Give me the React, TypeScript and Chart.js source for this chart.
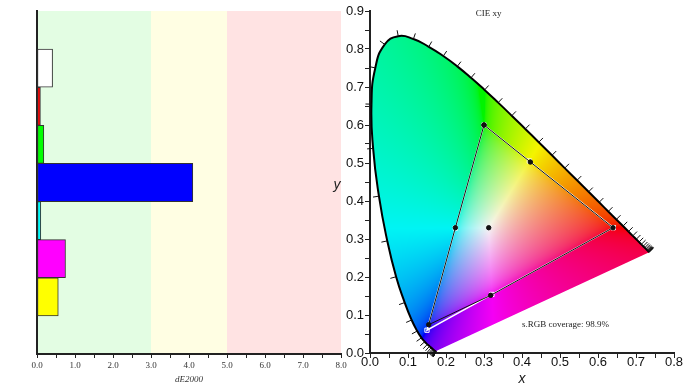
import React, { useEffect, useRef } from 'react';
import { Chart, registerables } from 'chart.js';
Chart.register(...registerables);

// ---------- Left: dE2000 bars ----------
const DE_CATEGORIES = ['', 'White', 'Red', 'Green', 'Blue', 'Cyan', 'Magenta', 'Yellow', ''];
const DE_VALUES = [null, 0.41, 0.09, 0.18, 4.1, 0.1, 0.75, 0.56, null];
const DE_COLORS = ['#ffffff', '#ffffff', '#ff0000', '#00ff00', '#0000ff', '#00ffff', '#ff00ff', '#ffff00', '#ffffff'];
const DE_BAND_EDGES = [0, 3, 5, 8];
const DE_BAND_COLORS = ['#e3fde3', '#fffee3', '#ffe3e3'];
const DE_TITLE = 'dE2000';

// ---------- Right: CIE xy ----------
const LOCUS_NM = [380, 385, 390, 395, 400, 405, 410, 415, 420, 425, 430, 435, 440, 445, 450, 455, 460, 465, 470, 475, 480, 485, 490, 495, 500, 505, 510, 515, 520, 525, 530, 535, 540, 545, 550, 555, 560, 565, 570, 575, 580, 585, 590, 595, 600, 605, 610, 615, 620, 625, 630, 635, 640, 645, 650, 655, 660, 665, 670, 675, 680, 685, 690, 695, 700];
const LOCUS_X = [0.1741, 0.1740, 0.1738, 0.1736, 0.1733, 0.1730, 0.1726, 0.1721, 0.1714, 0.1703, 0.1689, 0.1669, 0.1644, 0.1611, 0.1566, 0.1510, 0.1440, 0.1355, 0.1241, 0.1096, 0.0913, 0.0687, 0.0454, 0.0235, 0.0082, 0.0039, 0.0139, 0.0389, 0.0743, 0.1142, 0.1547, 0.1929, 0.2296, 0.2658, 0.3016, 0.3373, 0.3731, 0.4087, 0.4441, 0.4788, 0.5125, 0.5448, 0.5752, 0.6029, 0.6270, 0.6482, 0.6658, 0.6801, 0.6915, 0.7006, 0.7079, 0.7140, 0.7190, 0.7230, 0.7260, 0.7283, 0.7300, 0.7311, 0.7320, 0.7327, 0.7334, 0.7340, 0.7344, 0.7346, 0.7347];
const LOCUS_Y = [0.0050, 0.0050, 0.0049, 0.0049, 0.0048, 0.0048, 0.0048, 0.0048, 0.0051, 0.0058, 0.0069, 0.0086, 0.0109, 0.0138, 0.0177, 0.0227, 0.0297, 0.0399, 0.0578, 0.0868, 0.1327, 0.2007, 0.2950, 0.4127, 0.5384, 0.6548, 0.7502, 0.8120, 0.8338, 0.8262, 0.8059, 0.7816, 0.7543, 0.7243, 0.6923, 0.6589, 0.6245, 0.5896, 0.5547, 0.5202, 0.4866, 0.4544, 0.4242, 0.3965, 0.3725, 0.3514, 0.3340, 0.3197, 0.3083, 0.2993, 0.2920, 0.2859, 0.2809, 0.2770, 0.2740, 0.2717, 0.2700, 0.2689, 0.2680, 0.2673, 0.2666, 0.2660, 0.2656, 0.2654, 0.2653];

// target gamut (R, Y, G, C, B, M, R)
const TARGET_X = [0.64, 0.4193, 0.3, 0.2246, 0.15, 0.3209, 0.64];
const TARGET_Y = [0.33, 0.5053, 0.6, 0.3287, 0.06, 0.1542, 0.33];
// measured (G, Y, R, M, B, C, G)
const MEASURED_X = [0.3, 0.422, 0.6395, 0.3176, 0.1545, 0.2247, 0.3];
const MEASURED_Y = [0.6, 0.5026, 0.3297, 0.1518, 0.0745, 0.3297, 0.6];
const WHITE_X = [0.3124];
const WHITE_Y = [0.3297];
const CIE_TITLE = 'CIE xy';
const COVERAGE_TEXT = 's.RGB coverage: 98.9%';

const zip = (xs: number[], ys: number[]) => xs.map((x, i) => ({ x, y: ys[i] }));

function gammaC(v: number) {
  return v <= 0.0031308 ? 12.92 * v : 1.055 * Math.pow(v, 1 / 2.4) - 0.055;
}
function xyToRgb(cx: number, cy: number): [number, number, number] {
  if (cy <= 0.0005) cy = 0.0005;
  const X = cx / cy, Y = 1, Z = (1 - cx - cy) / cy;
  let r = 3.2406 * X - 1.5372 * Y - 0.4986 * Z;
  let g = -0.9689 * X + 1.8758 * Y + 0.0415 * Z;
  let b = 0.0557 * X - 0.204 * Y + 1.057 * Z;
  const mn = Math.min(r, g, b);
  if (mn < 0) { r -= mn * 0.7; g -= mn * 0.7; b -= mn * 0.7; }
  r = Math.max(0, r); g = Math.max(0, g); b = Math.max(0, b);
  const m = Math.max(r, g, b) || 1;
  const k = 244;
  return [gammaC(r / m) * k, gammaC(g / m) * k, gammaC(b / m) * k];
}

const bandsPlugin = {
  id: 'bands',
  beforeDraw(chart: any) {
    const { ctx, chartArea, scales } = chart;
    const x = scales.x;
    ctx.save();
    for (let i = 0; i < DE_BAND_COLORS.length; i++) {
      const x0 = x.getPixelForValue(DE_BAND_EDGES[i]);
      const x1 = x.getPixelForValue(DE_BAND_EDGES[i + 1]);
      ctx.fillStyle = DE_BAND_COLORS[i];
      ctx.fillRect(x0, chartArea.top, x1 - x0, chartArea.bottom - chartArea.top);
    }
    ctx.restore();
  },
  afterDraw(chart: any) {
    const { ctx, chartArea } = chart;
    ctx.save();
    ctx.font = 'italic 9px "Liberation Serif"';
    ctx.fillStyle = '#333';
    ctx.textAlign = 'center';
    ctx.textBaseline = 'middle';
    ctx.fillText(DE_TITLE, (chartArea.left + chartArea.right) / 2, chartArea.bottom + 26);
    ctx.restore();
  },
};

function locusPath(chart: any, ctx: CanvasRenderingContext2D) {
  const xs = chart.scales.x, ys = chart.scales.y;
  const meta = chart.getDatasetMeta(0);
  const line = meta && meta.dataset;
  ctx.beginPath();
  let done = false;
  try {
    if (line && typeof line.updateControlPoints === 'function' && typeof line.path === 'function') {
      line.updateControlPoints(chart.chartArea, 'x');
      line.path(ctx);
      done = true;
    }
  } catch (e) {
    done = false;
  }
  if (!done) {
    ctx.beginPath();
    LOCUS_X.forEach((lx, i) => {
      const px = xs.getPixelForValue(lx), py = ys.getPixelForValue(LOCUS_Y[i]);
      if (i === 0) ctx.moveTo(px, py); else ctx.lineTo(px, py);
    });
  }
  ctx.closePath();
}

const chromaPlugin = {
  id: 'chroma',
  beforeDraw(chart: any) {
    const { ctx, chartArea, scales } = chart;
    const xs = scales.x, ys = scales.y;
    const w = Math.ceil(chartArea.right - chartArea.left);
    const h = Math.ceil(chartArea.bottom - chartArea.top);
    const off = document.createElement('canvas');
    off.width = w; off.height = h;
    const octx = off.getContext('2d')!;
    const img = octx.createImageData(w, h);
    for (let py = 0; py < h; py++) {
      const cy = ys.getValueForPixel(chartArea.top + py + 0.5);
      for (let px = 0; px < w; px++) {
        const cx = xs.getValueForPixel(chartArea.left + px + 0.5);
        const [r, g, b] = xyToRgb(cx, cy);
        const k = (py * w + px) * 4;
        img.data[k] = r; img.data[k + 1] = g; img.data[k + 2] = b; img.data[k + 3] = 255;
      }
    }
    octx.putImageData(img, 0, 0);
    ctx.save();
    locusPath(chart, ctx);
    ctx.clip();
    ctx.drawImage(off, chartArea.left, chartArea.top);
    ctx.restore();
  },
  afterDatasetsDraw(chart: any) {
    const { ctx, scales } = chart;
    const xs = scales.x, ys = scales.y;
    const pts = LOCUS_X.map((lx, i) => [xs.getPixelForValue(lx), ys.getPixelForValue(LOCUS_Y[i])]);
    ctx.save();
    ctx.strokeStyle = '#111';
    ctx.lineWidth = 1;
    for (let i = 0; i < pts.length; i++) {
      let a = i, b = i;
      let dx = 0, dy = 0;
      for (let s = 1; s < 20; s++) {
        a = Math.max(0, i - s); b = Math.min(pts.length - 1, i + s);
        dx = pts[b][0] - pts[a][0]; dy = pts[b][1] - pts[a][1];
        if (Math.hypot(dx, dy) > 3) break;
      }
      const len = Math.hypot(dx, dy) || 1;
      const nx = dy / len, ny = -dx / len;
      ctx.beginPath();
      ctx.moveTo(pts[i][0], pts[i][1]);
      ctx.lineTo(pts[i][0] + nx * 6, pts[i][1] + ny * 6);
      ctx.stroke();
    }
    ctx.restore();
  },
  afterDraw(chart: any) {
    const { ctx, chartArea, scales } = chart;
    const xs = scales.x, ys = scales.y;
    ctx.save();
    ctx.fillStyle = '#222';
    ctx.textBaseline = 'middle';
    ctx.font = '9px "Liberation Serif"';
    ctx.textAlign = 'center';
    ctx.fillText(CIE_TITLE, xs.getPixelForValue(0.312), chartArea.top + 3);
    ctx.textAlign = 'left';
    ctx.fillText(COVERAGE_TEXT, xs.getPixelForValue(0.4), ys.getPixelForValue(0.0755));
    ctx.font = 'italic 14px "Liberation Sans"';
    ctx.textAlign = 'center';
    ctx.fillText('x', (chartArea.left + chartArea.right) / 2, chartArea.bottom + 26);
    ctx.fillText('y', chartArea.left - 33, (chartArea.top + chartArea.bottom) / 2 + 3);
    ctx.restore();
  },
};

function DeChart() {
  const ref = useRef<HTMLCanvasElement>(null);
  useEffect(() => {
    const chart = new Chart(ref.current!, {
      type: 'bar',
      data: {
        labels: DE_CATEGORIES,
        datasets: [{
          data: DE_VALUES as any,
          backgroundColor: DE_COLORS,
          borderColor: '#333',
          borderWidth: 1,
          borderSkipped: false,
          categoryPercentage: 1,
          barPercentage: 1,
        }],
      },
      options: {
        indexAxis: 'y',
        responsive: false,
        animation: false,
        events: [],
        layout: { padding: { left: 0, top: 11, right: 352, bottom: 0 } },
        plugins: { legend: { display: false }, tooltip: { enabled: false }, title: { display: false } },
        scales: {
          x: {
            type: 'linear', min: 0, max: 8,
            afterFit: (s: any) => { s.height = 36; },
            grid: { display: true, drawOnChartArea: false, drawTicks: true, tickLength: 4, color: '#222', lineWidth: 1 },
            border: { display: true, color: '#222', width: 2 },
            ticks: {
              stepSize: 0.5, autoSkip: false, maxRotation: 0, minRotation: 0, padding: 2,
              color: '#333', font: { family: 'Liberation Serif', size: 9 },
              callback: (v: any) => (Math.abs(v - Math.round(v)) < 1e-6 ? Number(v).toFixed(1) : ''),
            },
          },
          y: {
            type: 'category',
            afterFit: (s: any) => { s.width = 37; },
            grid: { display: false },
            border: { display: true, color: '#222', width: 2 },
            ticks: { display: false },
          },
        },
      } as any,
      plugins: [bandsPlugin],
    });
    return () => chart.destroy();
  }, []);
  return <canvas ref={ref} width={693} height={390} style={{ position: 'absolute', left: 0, top: 0 }} />;
}

function CieChart() {
  const ref = useRef<HTMLCanvasElement>(null);
  useEffect(() => {
    const tickCb = (v: any) => (Math.abs(v * 10 - Math.round(v * 10)) < 1e-6 ? Number(v).toFixed(1) : '');
    const chart = new Chart(ref.current!, {
      type: 'scatter',
      data: {
        datasets: [
          {
            data: zip(LOCUS_X, LOCUS_Y), showLine: true, borderColor: '#000', borderWidth: 2,
            pointRadius: 0, tension: 0.5, order: 3,
          },
          {
            data: zip(TARGET_X, TARGET_Y), showLine: true, borderColor: '#ffffff', borderWidth: 1.5,
            pointStyle: 'rect', pointRadius: 3, pointBorderColor: '#ffffff', pointBackgroundColor: 'rgba(0,0,0,0)',
            pointBorderWidth: 1, order: 2,
          },
          {
            data: zip(MEASURED_X, MEASURED_Y), showLine: true, borderColor: '#111', borderWidth: 1,
            pointRadius: 2.2, pointBackgroundColor: '#111', pointBorderColor: '#111', order: 1,
          },
          {
            data: zip(WHITE_X, WHITE_Y), showLine: false,
            pointRadius: 2.2, pointBackgroundColor: '#111', pointBorderColor: '#111', order: 0,
          },
        ],
      },
      options: {
        responsive: false,
        animation: false,
        events: [],
        layout: { padding: { left: 330, top: 11, right: 19, bottom: 0 } },
        plugins: { legend: { display: false }, tooltip: { enabled: false }, title: { display: false } },
        scales: {
          x: {
            type: 'linear', min: 0, max: 0.8,
            afterFit: (s: any) => { s.height = 37; },
            grid: { display: true, drawOnChartArea: false, drawTicks: true, tickLength: 5, color: '#222', lineWidth: 1 },
            border: { display: true, color: '#222', width: 2 },
            ticks: {
              stepSize: 0.05, autoSkip: false, maxRotation: 0, minRotation: 0, padding: -3,
              color: '#111', font: { family: 'Liberation Sans', size: 13 }, callback: tickCb,
            },
          },
          y: {
            type: 'linear', min: 0, max: 0.9,
            afterFit: (s: any) => { s.width = 40; },
            grid: { display: true, drawOnChartArea: false, drawTicks: true, tickLength: 5, color: '#222', lineWidth: 1 },
            border: { display: true, color: '#222', width: 2 },
            ticks: {
              stepSize: 0.05, autoSkip: false, padding: 1,
              color: '#111', font: { family: 'Liberation Sans', size: 13 }, callback: tickCb,
            },
          },
        },
      } as any,
      plugins: [chromaPlugin],
    });
    return () => chart.destroy();
  }, []);
  return <canvas ref={ref} width={693} height={390} style={{ position: 'absolute', left: 0, top: 0 }} />;
}

export default function App() {
  return (
    <div style={{ position: 'fixed', left: 0, top: 0, width: 693, height: 390, background: '#fff' }}>
      <DeChart />
      <CieChart />
    </div>
  );
}
